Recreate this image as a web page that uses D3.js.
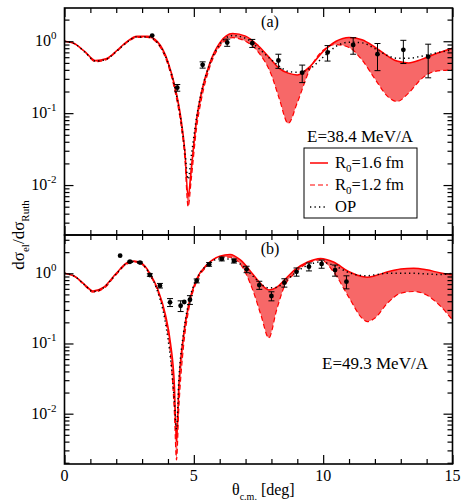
<!DOCTYPE html>
<html>
<head>
<meta charset="utf-8">
<script src="https://cdn.jsdelivr.net/npm/d3@7"></script>
<style>
  html, body { margin: 0; padding: 0; background: #fff; }
  svg { display: block; }
</style>
</head>
<body>
<svg id="chart" width="464" height="502" font-family="'Liberation Serif', 'Times New Roman', Times, 'DejaVu Serif', serif"></svg>
<script>
// ---- Panel (a): E = 38.4 MeV/A ----
const thetaA = [0,0.4,0.8,1.2,1.6,2.0,2.4,2.8,3.2,3.6,4.0,4.3,4.5,4.65,4.78,4.9,5.1,5.3,5.6,6.0,6.5,7.0,7.5,8.0,8.3,8.65,9.0,9.5,10.0,10.5,11.0,11.5,12.0,12.5,12.85,13.3,13.8,14.3,15.0];
const r16A = [1.0,0.92,0.71,0.54,0.57,0.73,0.98,1.17,1.17,0.98,0.52,0.21,0.086,0.031,0.007,0.017,0.08,0.2,0.48,0.95,1.28,1.18,0.86,0.55,0.42,0.36,0.34,0.45,0.72,1.0,1.13,1.05,0.83,0.62,0.53,0.5,0.56,0.66,0.8];
const r12A = [1.0,0.92,0.7,0.52,0.55,0.71,0.95,1.13,1.13,0.93,0.47,0.18,0.07,0.024,0.005,0.012,0.06,0.16,0.42,0.85,1.12,1.0,0.7,0.34,0.16,0.072,0.14,0.42,0.75,0.9,0.82,0.55,0.3,0.17,0.145,0.19,0.3,0.38,0.4];
const opA  = [1.0,0.92,0.7,0.53,0.56,0.72,0.96,1.15,1.15,0.95,0.5,0.2,0.08,0.03,0.012,0.025,0.085,0.2,0.47,0.9,1.2,1.1,0.8,0.55,0.45,0.38,0.37,0.42,0.6,0.85,0.97,0.95,0.79,0.63,0.58,0.58,0.62,0.68,0.76];
const expThetaA = [3.39,4.36,5.34,6.29,7.26,8.27,9.19,10.17,11.16,12.1,13.1,14.06];
const expValA   = [1.20,0.226,0.47,0.96,0.94,0.54,0.366,0.70,0.89,0.66,0.76,0.61];
const expErrA   = [0.0,0.024,0.047,0.11,0.12,0.12,0.10,0.17,0.23,0.27,0.27,0.30];

// ---- Panel (b): E = 49.3 MeV/A ----
const thetaB = [0,0.4,0.8,1.1,1.5,2.0,2.4,2.7,3.0,3.3,3.6,3.9,4.1,4.25,4.33,4.42,4.6,4.8,5.1,5.5,6.0,6.4,6.8,7.3,7.6,7.9,8.2,8.5,8.9,9.4,9.9,10.4,11.0,11.5,11.7,12.0,12.5,13.0,13.5,14.0,14.5,15.0];
const r16B = [1.0,0.9,0.68,0.56,0.63,1.0,1.4,1.5,1.38,1.0,0.6,0.26,0.1,0.025,0.004,0.025,0.13,0.36,0.82,1.32,1.75,1.85,1.55,0.95,0.7,0.58,0.63,0.8,1.12,1.45,1.63,1.45,1.05,0.9,0.88,0.92,1.05,1.15,1.18,1.12,1.02,0.95];
const r12B = [1.0,0.9,0.66,0.54,0.6,0.96,1.35,1.45,1.33,0.95,0.56,0.22,0.07,0.01,0.0022,0.012,0.09,0.3,0.75,1.25,1.7,1.7,1.35,0.55,0.25,0.12,0.3,0.65,1.0,1.4,1.55,1.05,0.45,0.23,0.205,0.23,0.38,0.52,0.55,0.49,0.35,0.216];
const opB  = [1.0,0.9,0.67,0.55,0.62,0.98,1.38,1.47,1.35,0.97,0.55,0.2,0.06,0.015,0.006,0.03,0.14,0.38,0.82,1.3,1.6,1.6,1.35,0.9,0.7,0.62,0.63,0.75,1.0,1.3,1.45,1.3,1.02,0.93,0.92,0.95,1.0,1.0,1.0,0.98,0.96,1.0];
const expThetaB = [2.15,2.53,2.92,3.30,3.69,4.08,4.49,4.63,4.85,5.11,5.59,6.08,6.55,7.04,7.53,8.0,8.5,8.97,9.45,9.94,10.46,10.9];
const expValB   = [1.78,1.46,1.42,0.945,0.667,0.386,0.345,0.39,0.42,0.78,1.34,1.6,1.5,1.14,0.68,0.475,0.735,1.05,1.24,1.36,1.11,0.76];
const expErrB   = [0,0.03,0.03,0.04,0.05,0.05,0.06,0,0.06,0.05,0.08,0.1,0.1,0.12,0.09,0.07,0.1,0.14,0.16,0.18,0.2,0.16];

const xTicksMajor = [0,5,10,15];
const yDecades = [1,0.1,0.01];
const yDecadeExp = ["0","-1","-2"];
const legendLabels = [["R","0","=1.6 fm"],["R","0","=1.2 fm"],["OP","",""]];

const svg = d3.select("#chart");
const x = d3.scaleLinear().domain([0,15]).range([64.5,452.5]);

const panels = [
  { id:"a", top:8, bottom:235, dom:[0.00202,2.9], th:thetaA, hi:r16A, lo:r12A, op:opA,
    et:expThetaA, ev:expValA, ee:expErrA, tag:"(a)", energy:"E=38.4 MeV/A", ex:307, ey:142, legend:true },
  { id:"b", top:235, bottom:464, dom:[0.00192,3.51], th:thetaB, hi:r16B, lo:r12B, op:opB,
    et:expThetaB, ev:expValB, ee:expErrB, tag:"(b)", energy:"E=49.3 MeV/A", ex:322, ey:369, legend:false }
];

const defs = svg.append("defs");

panels.forEach(p => {
  const y = d3.scaleLog().domain(p.dom).range([p.bottom, p.top]);
  defs.append("clipPath").attr("id","clip-"+p.id).append("rect")
    .attr("x",x(0)).attr("y",p.top).attr("width",x(15)-x(0)).attr("height",p.bottom-p.top);

  const g = svg.append("g").attr("clip-path","url(#clip-"+p.id+")");
  const idx = d3.range(p.th.length);

  // band between the two radius curves
  const band = d3.area().curve(d3.curveMonotoneX)
    .x(i => x(p.th[i])).y0(i => y(p.lo[i])).y1(i => y(p.hi[i]));
  g.append("path").datum(idx).attr("d",band).attr("fill","#f76868").attr("stroke","none");

  const line = arr => d3.line().curve(d3.curveMonotoneX).x(i => x(p.th[i])).y(i => y(arr[i]))(idx);
  g.append("path").attr("d",line(p.lo)).attr("fill","none").attr("stroke","#f00")
    .attr("stroke-width",1.2).attr("stroke-dasharray","5,3");
  g.append("path").attr("d",line(p.hi)).attr("fill","none").attr("stroke","#f00").attr("stroke-width",1.5);
  g.append("path").attr("d",line(p.op)).attr("fill","none").attr("stroke","#000")
    .attr("stroke-width",1.5).attr("stroke-dasharray","1.3,3.2");

  // experimental points with error bars
  const pts = svg.append("g");
  p.et.forEach((t,i) => {
    const cx = x(t), v = p.ev[i], e = p.ee[i];
    if (e > 0) {
      const y1 = y(v+e), y2 = y(v-e);
      pts.append("line").attr("x1",cx).attr("x2",cx).attr("y1",y1).attr("y2",y2).attr("stroke","#000").attr("stroke-width",1);
      [y1,y2].forEach(yy => pts.append("line").attr("x1",cx-3).attr("x2",cx+3).attr("y1",yy).attr("y2",yy).attr("stroke","#000").attr("stroke-width",1));
    }
    pts.append("circle").attr("cx",cx).attr("cy",y(v)).attr("r",2.4).attr("fill","#000");
  });

  // frame and inward ticks on all four sides
  const ax = svg.append("g");
  const minorX = d3.range(0,16).filter(d => d % 5 !== 0);
  const minorY = [];
  [0.001,0.01,0.1,1].forEach(d => { for (let k=2;k<=9;k++){ const v=d*k; if (v>p.dom[0] && v<p.dom[1]) minorY.push(v);} });

  const addAxis = (axis, tr) => {
    const a = ax.append("g").attr("transform",tr).call(axis);
    a.select(".domain").remove();
    a.selectAll("line").attr("stroke","#000").attr("stroke-width",1.2);
    a.selectAll("text").remove();
  };
  addAxis(d3.axisBottom(x).tickValues(xTicksMajor).tickSize(-9), `translate(0,${p.bottom})`);
  addAxis(d3.axisBottom(x).tickValues(minorX).tickSize(-5), `translate(0,${p.bottom})`);
  addAxis(d3.axisTop(x).tickValues(xTicksMajor).tickSize(-9), `translate(0,${p.top})`);
  addAxis(d3.axisTop(x).tickValues(minorX).tickSize(-5), `translate(0,${p.top})`);
  addAxis(d3.axisLeft(y).tickValues(yDecades).tickSize(-9), `translate(${x(0)},0)`);
  addAxis(d3.axisLeft(y).tickValues(minorY).tickSize(-5), `translate(${x(0)},0)`);
  addAxis(d3.axisRight(y).tickValues(yDecades).tickSize(-9), `translate(${x(15)},0)`);
  addAxis(d3.axisRight(y).tickValues(minorY).tickSize(-5), `translate(${x(15)},0)`);

  ax.append("rect").attr("x",x(0)).attr("y",p.top).attr("width",x(15)-x(0)).attr("height",p.bottom-p.top)
    .attr("fill","none").attr("stroke","#000").attr("stroke-width",1.6);

  // decade labels
  yDecades.forEach((d,i) => {
    const t = ax.append("text").attr("x",x(0)-8).attr("y",y(d)+5).attr("text-anchor","end").attr("font-size",16);
    t.append("tspan").text("10");
    t.append("tspan").attr("dy",-7).attr("font-size",11).text(yDecadeExp[i]);
  });

  svg.append("text").attr("x",270).attr("y",p.top+19).attr("text-anchor","middle").attr("font-size",16).text(p.tag);
  svg.append("text").attr("x",p.ex).attr("y",p.ey).attr("font-size",17).text(p.energy);

  if (p.legend) {
    const lg = svg.append("g");
    lg.append("rect").attr("x",304).attr("y",148).attr("width",113).attr("height",70)
      .attr("fill","#fff").attr("stroke","#000").attr("stroke-width",1);
    const styles = [
      {stroke:"#f00", dash:null, w:1.5},
      {stroke:"#f00", dash:"5,3", w:1.2},
      {stroke:"#000", dash:"1.3,3.2", w:1.5}
    ];
    legendLabels.forEach((lab,i) => {
      const ly = 163 + i*22;
      lg.append("line").attr("x1",310).attr("x2",328).attr("y1",ly).attr("y2",ly)
        .attr("stroke",styles[i].stroke).attr("stroke-width",styles[i].w).attr("stroke-dasharray",styles[i].dash);
      const t = lg.append("text").attr("x",335).attr("y",ly+5).attr("font-size",16.5);
      t.append("tspan").text(lab[0]);
      if (lab[1]) {
        t.append("tspan").attr("dy",4).attr("font-size",11).text(lab[1]);
        t.append("tspan").attr("dy",-4).text(lab[2]);
      }
    });
  }

  if (p.id === "b") {
    xTicksMajor.forEach(d => ax.append("text").attr("x",x(d)).attr("y",p.bottom+17).attr("text-anchor","middle").attr("font-size",16).text(d));
  }
});

// axis titles
const xt = svg.append("text").attr("x",232).attr("y",495).attr("font-size",16);
xt.append("tspan").text("θ");
xt.append("tspan").attr("dy",5).attr("font-size",10).text("c.m.");
xt.append("tspan").attr("dy",-5).text(" [deg]");

const yt = svg.append("text").attr("transform","translate(24,235) rotate(-90)").attr("text-anchor","middle").attr("font-size",17);
yt.append("tspan").text("dσ");
yt.append("tspan").attr("dy",5).attr("font-size",11).text("el");
yt.append("tspan").attr("dy",-5).text("/dσ");
yt.append("tspan").attr("dy",5).attr("font-size",11).text("Ruth");
</script>
</body>
</html>
